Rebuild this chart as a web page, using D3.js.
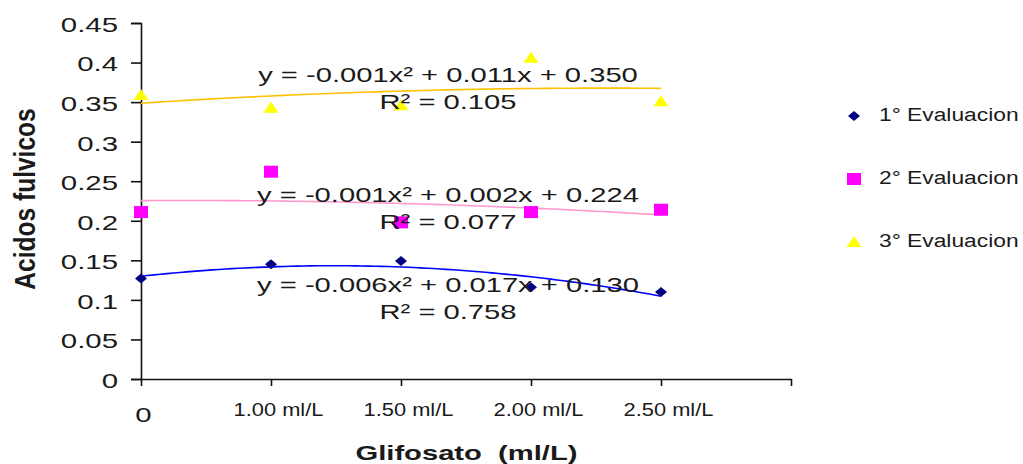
<!DOCTYPE html>
<html>
<head>
<meta charset="utf-8">
<script src="https://cdn.jsdelivr.net/npm/d3@7"></script>
<style>
  html, body { margin: 0; padding: 0; background: #fff; }
  svg { display: block; font-family: "Liberation Sans", Arial, sans-serif; }
</style>
</head>
<body>
<svg id="chart" width="1023" height="464"></svg>
<script>
// ---- data ----
const categories = ["0", "1.00 ml/L", "1.50 ml/L", "2.00 ml/L", "2.50 ml/L"];
const yTickValues = [0, 0.05, 0.1, 0.15, 0.2, 0.25, 0.3, 0.35, 0.4, 0.45];
const eval1 = [0.127, 0.145, 0.149, 0.116, 0.110];
const eval2 = [0.211, 0.262, 0.198, 0.211, 0.214];
const eval3 = [0.359, 0.343, 0.346, 0.406, 0.351];
const seriesNames = ["1° Evaluacion", "2° Evaluacion", "3° Evaluacion"];
const equations = [
  "y = -0.006x² + 0.017x + 0.130",
  "y = -0.001x² + 0.002x + 0.224",
  "y = -0.001x² + 0.011x + 0.350"
];
const r2Labels = ["R² = 0.758", "R² = 0.077", "R² = 0.105"];
const xTitle = "Glifosato  (ml/L)";
const yTitle = "Acidos fulvicos";

// ---- layout / style ----
const markerColors = ["#000080", "#FF00FF", "#FFFF00"];
const trendColors = ["#0000FF", "#FF99CC", "#FFC000"];
const eqBaselines = [291.7, 201.7, 81.7];
const eqCenterX = 448;
const textColor = "#1a1a1a";

const svg = d3.select("#chart");
const x = d3.scaleLinear().domain([0, 5]).range([141, 791]);
const y = d3.scaleLinear().domain([0, 0.45]).range([379, 23]);

// y axis
const yAxis = svg.append("g").attr("transform", `translate(${x(0)},0)`)
  .call(d3.axisLeft(y).tickValues(yTickValues).tickSize(10).tickPadding(0)
        .tickFormat(v => String(+v.toFixed(2))));
yAxis.select(".domain").attr("stroke", "#111").attr("stroke-width", 1.6);
yAxis.selectAll(".tick line").attr("stroke", "#111").attr("stroke-width", 1.6);
yAxis.selectAll(".tick text")
  .attr("font-size", 21).attr("fill", textColor)
  .attr("font-family", "'Liberation Sans', Arial, sans-serif")
  .attr("x", -23 / 1.4).attr("dy", "0.4em")
  .attr("transform", "scale(1.4,1)");

// x axis
const xAxis = svg.append("g").attr("transform", `translate(0,${y(0)})`)
  .call(d3.axisBottom(x).tickValues([0, 1, 2, 3, 4, 5]).tickSize(7).tickSizeOuter(0)
        .tickFormat(i => categories[i] !== undefined ? categories[i] : ""));
xAxis.select(".domain").attr("stroke", "#111").attr("stroke-width", 1.6);
xAxis.selectAll(".tick line").attr("stroke", "#111").attr("stroke-width", 1.6);
xAxis.selectAll(".tick text").each(function(d) {
  const t = d3.select(this).attr("font-family", "'Liberation Sans', Arial, sans-serif")
    .attr("fill", textColor).attr("dy", null);
  if (d === 0) {
    t.attr("font-size", 21).attr("y", 0).attr("x", 2 / 1.4)
      .attr("transform", "translate(0,43) scale(1.4,1)");
  } else {
    t.attr("font-size", 19).attr("y", 0).attr("x", 7 / 1.15)
      .attr("transform", "translate(0,36.7) scale(1.15,1)");
  }
});

// trendlines (quadratic least squares on the plotted points)
function quadFit(ys) {
  const xs = ys.map((_, i) => i);
  const S = k => d3.sum(xs, v => Math.pow(v, k));
  const T = k => d3.sum(xs, (v, i) => Math.pow(v, k) * ys[i]);
  const A = [[S(4), S(3), S(2)], [S(3), S(2), S(1)], [S(2), S(1), S(0)]];
  const B = [T(2), T(1), T(0)];
  const det = m => m[0][0]*(m[1][1]*m[2][2]-m[1][2]*m[2][1]) - m[0][1]*(m[1][0]*m[2][2]-m[1][2]*m[2][0]) + m[0][2]*(m[1][0]*m[2][1]-m[1][1]*m[2][0]);
  const D = det(A);
  const coef = [0, 1, 2].map(c => det(A.map((row, r) => row.map((v, j) => j === c ? B[r] : v))) / D);
  return xv => coef[0]*xv*xv + coef[1]*xv + coef[2];
}
const allSeries = [eval1, eval2, eval3];
const line = d3.line().x(d => x(d[0])).y(d => y(d[1]));
allSeries.forEach((s, k) => {
  const f = quadFit(s);
  const pts = d3.range(0, 4.0001, 0.05).map(v => [v, f(v)]);
  svg.append("path").attr("d", line(pts)).attr("fill", "none")
    .attr("stroke", trendColors[k]).attr("stroke-width", 1.6);
});

// markers
function marker(g, k, cx, cy) {
  if (k === 0) {
    g.append("path").attr("d", `M${cx-6},${cy} L${cx},${cy-5} L${cx+6},${cy} L${cx},${cy+5} Z`)
      .attr("fill", markerColors[0]);
  } else if (k === 1) {
    g.append("rect").attr("x", cx-7).attr("y", cy-6).attr("width", 14).attr("height", 12)
      .attr("fill", markerColors[1]);
  } else {
    g.append("path").attr("d", `M${cx-7.5},${cy+5} L${cx},${cy-6} L${cx+7.5},${cy+5} Z`)
      .attr("fill", markerColors[2]);
  }
}
const mg = svg.append("g");
allSeries.forEach((s, k) => s.forEach((v, i) => marker(mg, k, x(i), y(v))));

// equation labels
function stretchedText(parent, str, tx, ty, size, sx, anchor, weight) {
  return parent.append("text").text(str)
    .attr("transform", `translate(${tx},${ty}) scale(${sx},1)`)
    .attr("text-anchor", anchor).attr("font-size", size)
    .attr("font-weight", weight || "normal").attr("fill", textColor)
    .style("white-space", "pre");
}
equations.forEach((eq, k) => {
  stretchedText(svg, eq, eqCenterX, eqBaselines[k], 21, 1.39, "middle");
  stretchedText(svg, r2Labels[k], eqCenterX, eqBaselines[k] + 27.5, 21, 1.39, "middle");
});

// axis titles
stretchedText(svg, xTitle, 466.5, 460, 21, 1.39, "middle", "bold");
svg.append("text").text(yTitle)
  .attr("transform", "translate(35,199) rotate(-90) scale(1.17,1.4)")
  .attr("text-anchor", "middle").attr("font-size", 21).attr("font-weight", "bold")
  .attr("fill", textColor);

// legend
const legendY = [121, 184, 247];
seriesNames.forEach((name, k) => {
  marker(svg, k, 854, legendY[k] - 5);
  stretchedText(svg, name, 879, legendY[k], 19, 1.2, "start");
});
</script>
</body>
</html>
